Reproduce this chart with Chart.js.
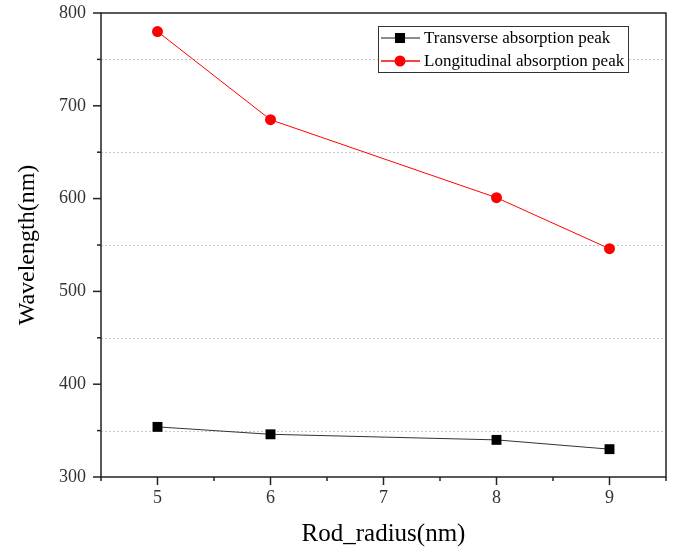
<!DOCTYPE html>
<html>
<head>
<meta charset="utf-8">
<script src="https://cdn.jsdelivr.net/npm/chart.js@4/dist/chart.umd.min.js"></script>
<style>
    html, body { margin: 0; padding: 0; background: #fff; }
    #wrap { width: 673px; height: 547px; }
</style>
</head>
<body>
<div id="wrap"><canvas id="peakChart" width="673" height="547"></canvas></div>
<script>
// Dados
const radii = [5, 6, 8, 9];
const transverse = [354, 346, 340, 330];
const longitudinal = [780, 685, 601, 546];
const seriesNames = ['Transverse absorption peak', 'Longitudinal absorption peak'];
const xTicks = [5, 6, 7, 8, 9];
const yTicks = [300, 400, 500, 600, 700, 800];

const serif = "'Liberation Serif', 'Times New Roman', serif";

function toPoints(values) {
    return radii.map(function(r, i) { return { x: r, y: values[i] }; });
}

// Moldura, ticks, grade pontilhada e legenda
const framePlugin = {
    id: 'frame',
    beforeDatasetsDraw(chart) {
        const a = chart.chartArea;
        const y = chart.scales.y;
        const ctx = chart.ctx;
        ctx.save();
        ctx.strokeStyle = '#c8c8c8';
        ctx.lineWidth = 1;
        ctx.setLineDash([2, 2]);
        for (let v = 350; v < 800; v += 100) {
            const py = Math.round(y.getPixelForValue(v)) + 0.5;
            ctx.beginPath();
            ctx.moveTo(a.left, py);
            ctx.lineTo(a.right, py);
            ctx.stroke();
        }
        ctx.restore();
    },
    afterDatasetsDraw(chart) {
        const a = chart.chartArea;
        const x = chart.scales.x;
        const y = chart.scales.y;
        const ctx = chart.ctx;
        ctx.save();
        ctx.strokeStyle = '#222';
        ctx.lineWidth = 1.5;
        ctx.strokeRect(a.left, a.top, a.right - a.left, a.bottom - a.top);

        for (let v = 300; v <= 800; v += 50) {
            const py = y.getPixelForValue(v);
            const len = v % 100 === 0 ? 8 : 4;
            ctx.beginPath();
            ctx.moveTo(a.left - len, py);
            ctx.lineTo(a.left, py);
            ctx.stroke();
        }
        for (let v = 4.5; v <= 9.5; v += 0.5) {
            const px = x.getPixelForValue(v);
            const len = Number.isInteger(v) ? 8 : 4;
            ctx.beginPath();
            ctx.moveTo(px, a.bottom);
            ctx.lineTo(px, a.bottom + len);
            ctx.stroke();
        }
        ctx.restore();
    },
    afterDraw(chart) {
        const ctx = chart.ctx;
        const box = { left: 378, top: 26, width: 250, height: 46 };
        ctx.save();
        ctx.fillStyle = '#fff';
        ctx.fillRect(box.left, box.top, box.width, box.height);
        ctx.strokeStyle = '#333';
        ctx.lineWidth = 1;
        ctx.strokeRect(box.left + 0.5, box.top + 0.5, box.width, box.height);
        chart.data.datasets.forEach(function(ds, i) {
            const cy = box.top + 12 + i * 23;
            ctx.strokeStyle = i === 0 ? '#666' : ds.borderColor;
            ctx.lineWidth = 1.5;
            ctx.beginPath();
            ctx.moveTo(box.left + 3, cy);
            ctx.lineTo(box.left + 42, cy);
            ctx.stroke();
            ctx.fillStyle = ds.pointBackgroundColor;
            if (ds.pointStyle === 'rect') {
                ctx.fillRect(box.left + 17, cy - 5, 10, 10);
            } else {
                ctx.beginPath();
                ctx.arc(box.left + 22, cy, 5.5, 0, Math.PI * 2);
                ctx.fill();
            }
            ctx.fillStyle = '#000';
            ctx.font = '17px ' + serif;
            ctx.textBaseline = 'middle';
            ctx.fillText(ds.label, box.left + 46, cy + 1);
        });
        ctx.restore();
    }
};

document.addEventListener('DOMContentLoaded', function() {
    const chartCtx = document.getElementById('peakChart').getContext('2d');
    const peakChart = new Chart(chartCtx, {
        type: 'line',
        data: {
            datasets: [{
                label: seriesNames[0],
                data: toPoints(transverse),
                borderColor: '#333',
                borderWidth: 1,
                pointStyle: 'rect',
                pointRadius: 7,
                pointBackgroundColor: '#000',
                pointBorderWidth: 0
            }, {
                label: seriesNames[1],
                data: toPoints(longitudinal),
                borderColor: '#ff0000',
                borderWidth: 1,
                pointStyle: 'circle',
                pointRadius: 5.5,
                pointBackgroundColor: '#ff0000',
                pointBorderWidth: 0
            }]
        },
        options: {
            responsive: false,
            animation: false,
            layout: { padding: { top: 13, right: 6, left: 0, bottom: 0 } },
            scales: {
                x: {
                    type: 'linear',
                    min: 4.5,
                    max: 9.5,
                    afterFit: function(scale) {
                        scale.height = 70;
                        scale.paddingLeft = 0;
                        scale.paddingRight = 0;
                    },
                    afterBuildTicks: function(scale) {
                        scale.ticks = xTicks.map(function(v) { return { value: v }; });
                    },
                    grid: { display: false, drawTicks: false, tickLength: 0 },
                    border: { display: false },
                    ticks: {
                        color: '#333',
                        padding: 10,
                        font: { family: serif, size: 18 }
                    },
                    title: {
                        display: true,
                        text: 'Rod_radius(nm)',
                        color: '#000',
                        padding: { top: 0, bottom: 0 },
                        font: { family: serif, size: 25, lineHeight: 1 }
                    }
                },
                y: {
                    min: 300,
                    max: 800,
                    afterFit: function(scale) {
                        scale.width = 101;
                        scale.paddingTop = 0;
                        scale.paddingBottom = 0;
                    },
                    afterBuildTicks: function(scale) {
                        scale.ticks = yTicks.map(function(v) { return { value: v }; });
                    },
                    grid: { display: false, drawTicks: false, tickLength: 0 },
                    border: { display: false },
                    ticks: {
                        color: '#333',
                        padding: 15,
                        font: { family: serif, size: 18 }
                    },
                    title: {
                        display: true,
                        text: 'Wavelength(nm)',
                        color: '#000',
                        padding: { top: 13, bottom: 0 },
                        font: { family: serif, size: 24, lineHeight: 1.2 }
                    }
                }
            },
            plugins: {
                legend: { display: false },
                tooltip: { enabled: false }
            }
        },
        plugins: [framePlugin]
    });
});
</script>
</body>
</html>
